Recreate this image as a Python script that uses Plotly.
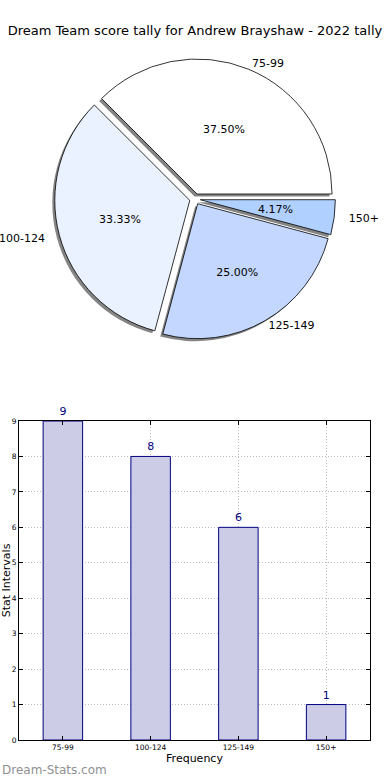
import plotly.graph_objects as go

categories = ["75-99", "100-124", "125-149", "150+"]
counts = [9, 8, 6, 1]
pie_colors = ["#ffffff", "#ebf2ff", "#c4d8ff", "#b0d0ff"]
y_ticks = [0, 1, 2, 3, 4, 5, 6, 7, 8, 9]
title_text = "Dream Team score tally for Andrew Brayshaw - 2022 tally"

W, H = 390, 780

def px_x(x):
    return x / W

def px_y(y):
    return 1 - y / H

cx, cy, r, pull = 195, 199, 135, 0.04

def dom(radius, dx=0.0, dy=0.0):
    half = radius * (1 + pull)
    return dict(x=[px_x(cx - half + dx), px_x(cx + half + dx)],
                y=[px_y(cy + half + dy), px_y(cy - half + dy)])

# first slice starts at 3 o'clock and runs counterclockwise
first_share = counts[0] / sum(counts)
rot = 90 - 360 * first_share

pie_common = dict(labels=categories, values=counts, sort=False,
                  direction="counterclockwise", rotation=rot, pull=[pull] * 4,
                  showlegend=False)
txt_font = dict(family="DejaVu Sans", size=11, color="#000000")
clear = dict(colors=["rgba(0,0,0,0)"] * 4, line=dict(width=0))

small = [v / sum(counts) < 0.1 for v in counts]
side = [c in ("100-124", "150+") for c in categories]

fig = go.Figure()

# shadow
fig.add_trace(go.Pie(
    **pie_common, domain=dom(r, -2.5, 2.5),
    marker=dict(colors=["rgba(110,110,110,0.85)"] * 4, line=dict(width=0)),
    textinfo="none", hoverinfo="skip",
))
# main pie with percentages for the larger slices
fig.add_trace(go.Pie(
    **pie_common, domain=dom(r),
    marker=dict(colors=pie_colors, line=dict(color="#000000", width=0.8)),
    texttemplate=["" if s else "%{percent:.2%}" for s in small],
    textposition="inside", insidetextorientation="horizontal",
    textfont=txt_font,
))
# percentage for the thin slice, placed nearer the centre
fig.add_trace(go.Pie(
    **pie_common, domain=dom(r * 0.65), marker=clear,
    texttemplate=["%{percent:.2%}" if s else "" for s in small],
    textposition="inside", insidetextorientation="horizontal",
    textfont=txt_font, hoverinfo="skip",
))
# outside labels: top / bottom
fig.add_trace(go.Pie(
    **pie_common, domain=dom(r), marker=clear,
    texttemplate=["" if s else "%{label}" for s in side], textposition="outside",
    textfont=txt_font, hoverinfo="skip",
))
# outside labels: left / right
fig.add_trace(go.Pie(
    **pie_common, domain=dom(r + 11), marker=clear,
    texttemplate=["%{label}" if s else "" for s in side], textposition="outside",
    textfont=txt_font, hoverinfo="skip",
))

# bar chart
fig.add_trace(go.Bar(
    x=list(range(len(categories))), y=counts, width=0.45,
    marker=dict(color="#ccccE6", line=dict(color="#000080", width=1)),
    text=[str(v) for v in counts], textposition="outside",
    textfont=dict(family="DejaVu Sans", size=11, color="#000080"),
    cliponaxis=False, showlegend=False,
))

grid_style = dict(showgrid=True, gridcolor="#bdbdbd", griddash="1px,2px", gridwidth=1)

fig.update_layout(
    width=W, height=H,
    margin=dict(l=0, r=0, t=0, b=0, autoexpand=False),
    paper_bgcolor="white", plot_bgcolor="white",
    uniformtext=dict(minsize=11, mode="show"),
    title=dict(text=title_text, x=0.5, xanchor="center", y=px_y(30), yanchor="middle",
               font=dict(family="DejaVu Sans", size=13, color="#000000")),
    xaxis=dict(
        domain=[px_x(19), px_x(370)], range=[-0.5, 3.5], automargin=False,
        tickmode="array", tickvals=list(range(len(categories))), ticktext=categories,
        tickfont=dict(family="DejaVu Sans", size=7.5, color="#000000"),
        showline=True, linecolor="#000000", linewidth=1, mirror="ticks",
        ticks="inside", ticklen=4, tickcolor="#000000",
        zeroline=False, **grid_style,
        title=dict(text="Frequency", font=dict(family="DejaVu Sans", size=11, color="#000000"), standoff=2),
    ),
    yaxis=dict(
        domain=[px_y(740), px_y(421)], range=[0, 9], automargin=False,
        tickmode="array", tickvals=y_ticks,
        tickfont=dict(family="DejaVu Sans", size=7.5, color="#000000"),
        showline=True, linecolor="#000000", linewidth=1, mirror="ticks",
        ticks="inside", ticklen=4, tickcolor="#000000",
        zeroline=False, **grid_style,
        title=dict(text="Stat Intervals", font=dict(family="DejaVu Sans", size=11, color="#000000"), standoff=1),
    ),
    annotations=[dict(
        text="Dream-Stats.com", x=0, y=px_y(770), xref="paper", yref="paper",
        xanchor="left", yanchor="middle", showarrow=False,
        font=dict(family="DejaVu Sans", size=12, color="#909090"),
    )],
)

fig.write_html("out.html", config={"displayModeBar": False},
               post_script="document.body.style.margin='0px';")
